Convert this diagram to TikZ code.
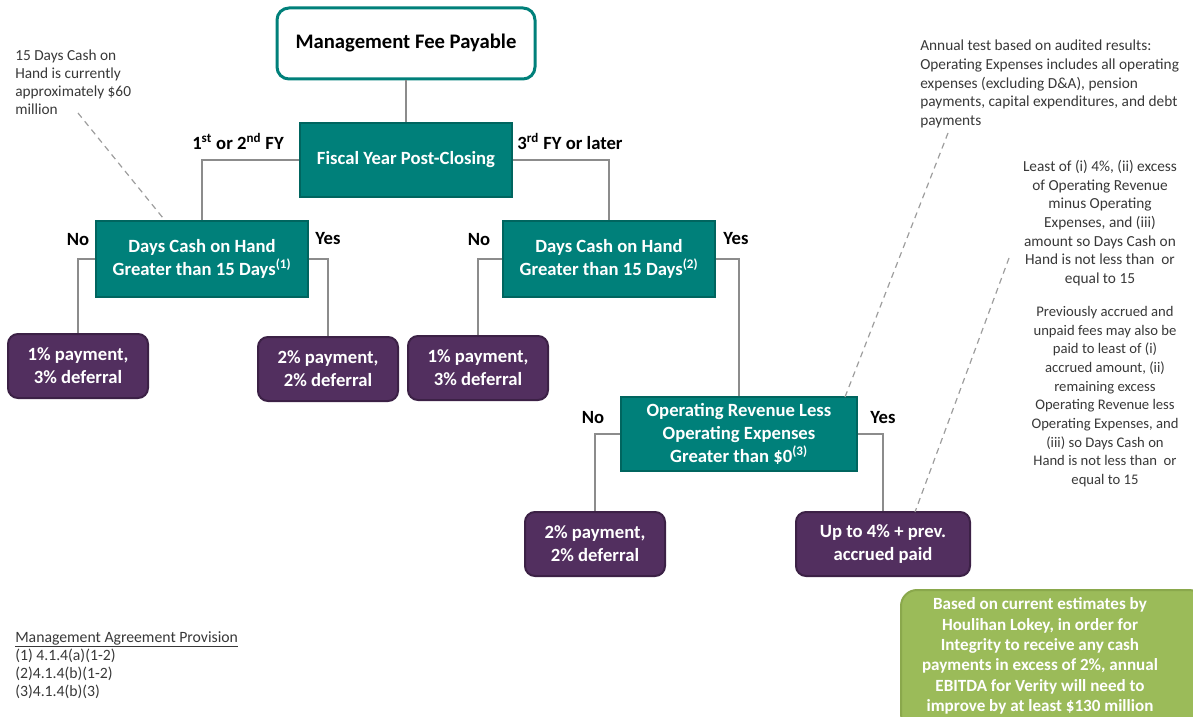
\documentclass[tikz,border=0pt]{standalone}
\usepackage{fontspec}
\setmainfont{Carlito}
\definecolor{teal1}{HTML}{00807A}
\definecolor{tealdark}{HTML}{00655F}
\definecolor{purp}{HTML}{522F5F}
\definecolor{purpdark}{HTML}{3C2146}
\definecolor{grn}{HTML}{9BBB59}
\definecolor{grndark}{HTML}{8AA84C}
\definecolor{linegray}{HTML}{8C8C8C}
\definecolor{txtgray}{HTML}{383838}
\tikzset{
  bigfont/.style={font=\fontsize{14}{17.2}\selectfont\bfseries},
  mgmtbox/.style={draw=teal1, line width=2.25pt, rounded corners=9pt, fill=white,
    minimum width=193.5pt, minimum height=53.25pt, font=\fontsize{15.5}{18}\selectfont\bfseries},
  tealbox/.style={bigfont, fill=teal1, draw=tealdark, line width=1.5pt, text=white,
    align=center, inner sep=0pt},
  purpbox/.style={bigfont, fill=purp, draw=purpdark, line width=1.5pt, rounded corners=7.5pt,
    text=white, align=center, minimum width=105pt, minimum height=48pt, inner sep=0pt},
  lbl/.style={bigfont, text=black, inner sep=0pt},
  note/.style={font=\fontsize{11.5}{14}\selectfont, text=txtgray, inner sep=0pt},
  conn/.style={draw=linegray, line width=1.1pt},
  dashconn/.style={draw=linegray!85, line width=0.9pt, dash pattern=on 4.5pt off 3.5pt},
}
\begin{document}
\begin{tikzpicture}[x=0.75pt, y=-0.75pt]
\useasboundingbox (0,0) rectangle (1193,717);

% main nodes
\node[mgmtbox] (mgmt) at (406,43.5) {Management Fee Payable};
\node[tealbox, minimum width=159pt, minimum height=55.5pt] (fiscal) at (406,160) {Fiscal Year Post-Closing};
\node[tealbox, minimum width=159pt, minimum height=57pt] (days1) at (202,259)
  {Days Cash on Hand\\Greater than 15 Days\textsuperscript{(1)}};
\node[tealbox, minimum width=159pt, minimum height=57pt] (days2) at (609,259)
  {Days Cash on Hand\\Greater than 15 Days\textsuperscript{(2)}};
\node[tealbox, minimum width=177pt, minimum height=55.5pt] (oprev) at (739,434)
  {Operating Revenue Less\\Operating Expenses\\Greater than \$0\textsuperscript{(3)}};

\node[purpbox] (p1) at (78,366) {1\% payment,\\3\% deferral};
\node[purpbox] (p2) at (328,369) {2\% payment,\\2\% deferral};
\node[purpbox] (p3) at (478,368) {1\% payment,\\3\% deferral};
\node[purpbox] (p4) at (595,544) {2\% payment,\\2\% deferral};
\node[purpbox, minimum width=130.5pt] (p5) at (883,544) {Up to 4\% + prev.\\accrued paid};

% connectors
\draw[conn] (mgmt.south) -- (fiscal.north);
\draw[conn] (fiscal.west) -| (days1.north);
\draw[conn] (fiscal.east) -| (days2.north);
\draw[conn] (days1.west) -| (p1.north);
\draw[conn] (days1.east) -| (p2.north);
\draw[conn] (days2.west) -| (p3.north);
\draw[conn] (days2.east) -| (oprev.north);
\draw[conn] (oprev.west) -| (p4.north);
\draw[conn] (oprev.east) -| (p5.north);

% branch labels
\node[lbl] (l12) at (238,141) {1\textsuperscript{st} or 2\textsuperscript{nd} FY};
\node[lbl] (l3) at (570,141) {3\textsuperscript{rd} FY or later};
\node[lbl] (no1) at (78,240) {No};
\node[lbl] (yes1) at (328,239) {Yes};
\node[lbl] (no2) at (479,240) {No};
\node[lbl] (yes2) at (736,239) {Yes};
\node[lbl] (no3) at (593,418) {No};
\node[lbl] (yes3) at (883,418) {Yes};

% annotations
\node[note, font=\fontsize{11.5}{13.5}\selectfont, anchor=north west, align=left] (ncash) at (15,50)
  {15 Days Cash on\\Hand is currently\\approximately \$60\\million};
\coordinate (d1a) at (78,113);
\coordinate (d1b) at (163,218);
\draw[dashconn] (d1a) -- (d1b);

\node[note, anchor=north west, align=left] (nannual) at (920,40)
  {Annual test based on audited results:\\Operating Expenses includes all operating\\expenses (excluding D\&A), pension\\payments, capital expenditures, and debt\\payments};
\coordinate (d2a) at (948,133);
\coordinate (d2b) at (845,397);
\draw[dashconn] (d2a) -- (d2b);

\node[note, anchor=north, align=center] (nleast) at (1100,160)
  {Least of (i) 4\%, (ii) excess\\of Operating Revenue\\minus Operating\\Expenses, and (iii)\\amount so Days Cash on\\Hand is not less than\ \ or\\equal to 15};
\node[note, font=\fontsize{11}{14}\selectfont, anchor=north, align=center] (nprev) at (1105,306)
  {Previously accrued and\\unpaid fees may also be\\paid to least of (i)\\accrued amount, (ii)\\remaining excess\\Operating Revenue less\\Operating Expenses, and\\(iii) so Days Cash on\\Hand is not less than\ \ or\\equal to 15};
\coordinate (d3a) at (1009,258);
\coordinate (d3b) at (915,512);
\draw[dashconn] (d3a) -- (d3b);

% footnote
\node[note, font=\fontsize{11.8}{13.5}\selectfont, anchor=north west, align=left] (foot) at (15,631)
  {\underline{Management Agreement Provision}\\(1) 4.1.4(a)(1-2)\\(2)4.1.4(b)(1-2)\\(3)4.1.4(b)(3)};

% green box
\node[fill=grn, draw=grndark, line width=1.5pt, rounded corners=12pt,
  minimum width=228pt, minimum height=105pt] (green) at (1053,660) {};
\node[font=\fontsize{12.8}{15.3}\selectfont\bfseries, text=white, align=center, inner sep=0pt]
  (greentext) at (1040,656)
  {Based on current estimates by\\Houlihan Lokey, in order for\\Integrity to receive any cash\\payments in excess of 2\%, annual\\EBITDA for Verity will need to\\improve by at least \$130 million};
\end{tikzpicture}
\end{document}
